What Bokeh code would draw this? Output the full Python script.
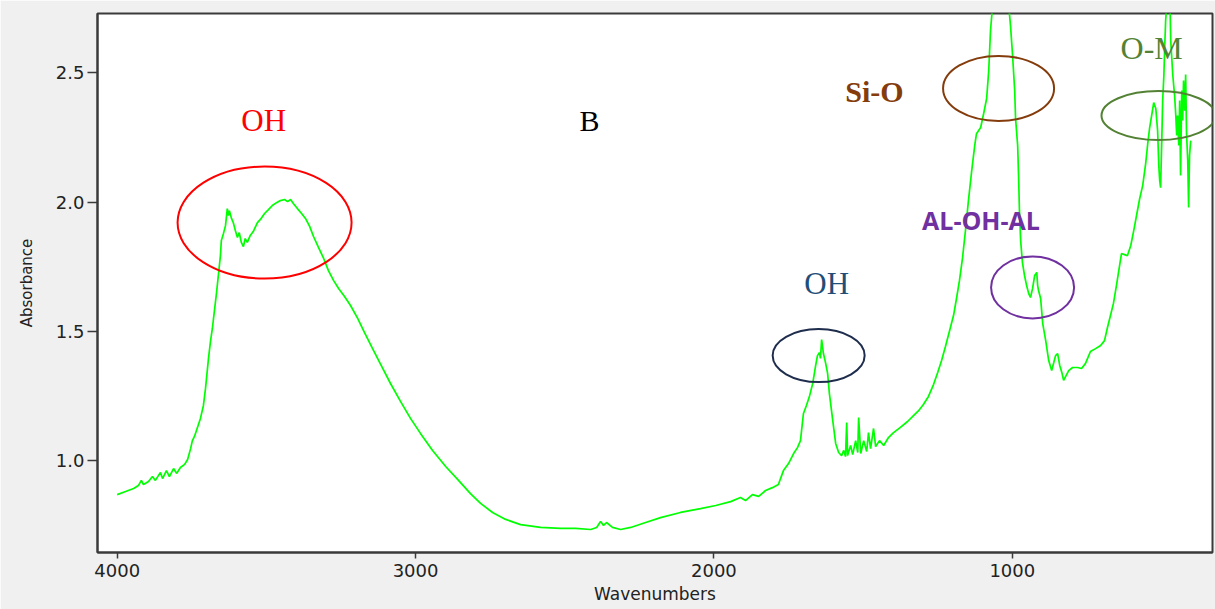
from bokeh.plotting import figure
from bokeh.models import Range1d, FixedTicker, PrintfTickFormatter
from bokeh.core.properties import value
from bokeh.embed import file_html
from bokeh.resources import INLINE

# ---- spectrum data (wavenumber cm-1, absorbance) ----
wavenumbers = [
    4000, 3972, 3945, 3929, 3919, 3912, 3895, 3882, 3872, 3855, 3848, 3835, 3825, 3811, 3801, 3788,
    3774, 3764, 3754, 3748, 3741, 3731, 3721, 3711, 3704, 3694, 3687, 3681, 3674, 3667, 3661, 3654,
    3651, 3644, 3637, 3631, 3627, 3624, 3617, 3611, 3604, 3597, 3591, 3584, 3577, 3571, 3564, 3554,
    3544, 3530, 3520, 3506, 3493, 3480, 3466, 3453, 3439, 3429, 3419, 3409, 3396, 3382, 3369, 3355,
    3342, 3325, 3308, 3292, 3275, 3258, 3238, 3218, 3194, 3171, 3144, 3117, 3084, 3050, 3017, 2983,
    2943, 2899, 2856, 2816, 2782, 2742, 2698, 2648, 2581, 2514, 2464, 2413, 2393, 2380, 2370, 2360,
    2340, 2313, 2279, 2229, 2179, 2112, 2045, 1994, 1944, 1911, 1894, 1871, 1850, 1827, 1804, 1784,
    1767, 1750, 1733, 1720, 1710, 1700, 1690, 1679, 1669, 1659, 1653, 1646, 1643, 1639, 1633, 1626,
    1619, 1613, 1603, 1592, 1582, 1572, 1565, 1559, 1555, 1552, 1542, 1535, 1525, 1518, 1515, 1508,
    1498, 1488, 1482, 1475, 1465, 1458, 1445, 1431, 1415, 1398, 1375, 1351, 1331, 1314, 1298, 1281,
    1264, 1250, 1237, 1224, 1210, 1197, 1187, 1177, 1167, 1157, 1147, 1136, 1126, 1120, 1106, 1096,
    1086, 1079, 1073, 1066, 1039, 1012, 1006, 999, 992, 989, 982, 979, 976, 972, 966, 959,
    952, 945, 939, 932, 925, 918, 915, 912, 905, 898, 888, 878, 868, 861, 855, 848,
    841, 834, 828, 821, 811, 798, 781, 768, 755, 738, 721, 704, 691, 681, 671, 661,
    651, 644, 634, 624, 614, 603, 593, 583, 573, 563, 553, 546, 540, 533, 526, 519,
    513, 509, 506, 503, 499, 496, 492, 489, 486, 479, 472, 469, 462, 456, 452, 449,
    446, 442, 439, 436, 432, 429, 426, 422, 419, 416, 412, 409, 406, 402,
]
absorbance = [
    0.868, 0.880, 0.892, 0.903, 0.923, 0.907, 0.919, 0.938, 0.923, 0.954, 0.930, 0.961, 0.938, 0.969, 0.950, 0.973,
    0.985, 1.004, 1.046, 1.077, 1.093, 1.128, 1.163, 1.213, 1.279, 1.395, 1.464, 1.511, 1.581, 1.650, 1.716, 1.793,
    1.851, 1.878, 1.909, 1.975, 1.948, 1.967, 1.937, 1.921, 1.890, 1.863, 1.882, 1.844, 1.828, 1.859, 1.844, 1.871,
    1.886, 1.921, 1.933, 1.956, 1.971, 1.987, 1.998, 2.006, 2.010, 2.002, 2.010, 1.994, 1.975, 1.956, 1.937, 1.906,
    1.867, 1.824, 1.782, 1.735, 1.697, 1.666, 1.635, 1.600, 1.550, 1.495, 1.433, 1.372, 1.298, 1.228, 1.163, 1.104,
    1.039, 0.977, 0.923, 0.872, 0.834, 0.799, 0.772, 0.752, 0.741, 0.737, 0.737, 0.733, 0.741, 0.764, 0.749, 0.760,
    0.741, 0.733, 0.741, 0.760, 0.779, 0.799, 0.814, 0.826, 0.841, 0.857, 0.845, 0.868, 0.861, 0.884, 0.895, 0.907,
    0.961, 0.988, 1.027, 1.050, 1.077, 1.182, 1.213, 1.252, 1.298, 1.368, 1.406, 1.418, 1.395, 1.468, 1.414, 1.379,
    1.337, 1.259, 1.166, 1.066, 1.031, 1.019, 1.039, 1.015, 1.147, 1.019, 1.058, 1.023, 1.077, 1.031, 1.166, 1.027,
    1.077, 1.035, 1.108, 1.046, 1.124, 1.054, 1.077, 1.058, 1.089, 1.108, 1.128, 1.151, 1.174, 1.193, 1.217, 1.248,
    1.294, 1.341, 1.387, 1.441, 1.503, 1.561, 1.627, 1.697, 1.782, 1.890, 2.006, 2.122, 2.219, 2.265, 2.289, 2.343,
    2.401, 2.509, 2.664, 2.761, 2.858, 2.761, 2.683, 2.567, 2.432, 2.323, 2.219, 2.103, 1.967, 1.851, 1.766, 1.716,
    1.677, 1.646, 1.631, 1.666, 1.716, 1.728, 1.677, 1.658, 1.627, 1.530, 1.464, 1.387, 1.348, 1.379, 1.406, 1.414,
    1.368, 1.341, 1.310, 1.326, 1.348, 1.360, 1.360, 1.356, 1.375, 1.422, 1.433, 1.445, 1.464, 1.515, 1.561, 1.608,
    1.677, 1.728, 1.801, 1.797, 1.793, 1.832, 1.890, 1.952, 2.014, 2.064, 2.149, 2.227, 2.285, 2.335, 2.385, 2.362,
    2.277, 2.142, 2.084, 2.056, 2.238, 2.393, 2.490, 2.606, 2.703, 2.819, 2.800, 2.625, 2.490, 2.412, 2.335, 2.258,
    2.335, 2.219, 2.393, 2.103, 2.432, 2.316, 2.471, 2.354, 2.494, 2.265, 2.161, 1.979, 2.180, 2.238,
]

x_ticks = [4000, 3000, 2000, 1000]
y_ticks = [1.0, 1.5, 2.0, 2.5]

p = figure(
    width=1215, height=609,
    x_range=Range1d(4066, 329), y_range=Range1d(0.644, 2.730),
    output_backend="svg", toolbar_location=None,
    min_border_left=97, min_border_top=13, min_border_bottom=57, min_border_right=3,
    background_fill_color="white", border_fill_color="#f0f0f0",
)
p.xgrid.visible = False
p.ygrid.visible = False
p.outline_line_color = "#3a3a3a"
p.outline_line_width = 2

p.xaxis.ticker = FixedTicker(ticks=x_ticks)
p.yaxis.ticker = FixedTicker(ticks=y_ticks)
p.xaxis.formatter = PrintfTickFormatter(format="%d")
p.yaxis.formatter = PrintfTickFormatter(format="%.1f")
for ax in (p.xaxis, p.yaxis):
    ax.axis_line_color = "#3a3a3a"
    ax.axis_line_width = 2
    ax.major_tick_line_color = "#3a3a3a"
    ax.major_tick_line_width = 1.5
    ax.major_tick_in = 0
    ax.minor_tick_in = 0
    ax.minor_tick_out = 0
    ax.major_label_text_font = "DejaVu Sans"
    ax.major_label_text_font_size = "18px"
    ax.major_label_text_color = "#222222"
    ax.axis_label_text_font = "DejaVu Sans"
    ax.axis_label_text_font_style = "normal"
    ax.axis_label_text_color = "#222222"
p.xaxis.major_tick_out = 6
p.yaxis.major_tick_out = 10
p.xaxis.major_label_standoff = 5
p.yaxis.major_label_standoff = 3
p.xaxis.axis_label = "Wavenumbers"
p.yaxis.axis_label = "Absorbance"
p.xaxis.axis_label_text_font_size = "17px"
p.yaxis.axis_label_text_font_size = "15px"
p.xaxis.axis_label_standoff = 4
p.yaxis.axis_label_standoff = 17

p.line(wavenumbers, absorbance, line_color="#00ff00", line_width=1.7)

# ---- annotations: ellipses ----
p.ellipse(x=[3506], y=[1.921], width=174, height=112, width_units="screen", height_units="screen",
          fill_color=None, line_color="#ff0000", line_width=2)
p.ellipse(x=[1046], y=[2.440], width=111, height=65, width_units="screen", height_units="screen",
          fill_color=None, line_color="#843c0c", line_width=2)
p.ellipse(x=[510], y=[2.335], width=114, height=49, width_units="screen", height_units="screen",
          fill_color=None, line_color="#548235", line_width=2)
p.ellipse(x=[932], y=[1.670], width=83, height=62, width_units="screen", height_units="screen",
          fill_color=None, line_color="#7030a0", line_width=2)
p.ellipse(x=[1649], y=[1.406], width=92, height=53, width_units="screen", height_units="screen",
          fill_color=None, line_color="#1f2d4d", line_width=2)

# ---- annotations: texts ----
def label(x, y, t, color, size, font, style="normal"):
    p.text(x=[x], y=[y], text=[t], text_color=color, text_font=value(font),
           text_font_size=value(size), text_font_style=style,
           text_align="center", text_baseline="middle")

label(3509, 2.316, "OH", "#ff0000", "31px", "Liberation Serif")
label(2417, 2.316, "B", "#000000", "30px", "Liberation Serif")
label(1462, 2.428, "Si-O", "#843c0c", "30px", "Liberation Serif", "bold")
label(1105, 1.929, "AL-OH-AL", "#7030a0", "25px", "Open Sans", "bold")
label(1622, 1.685, "OH", "#1f4e79", "31px", "Liberation Serif")
label(533, 2.598, "O-M", "#548235", "32px", "Liberation Serif")

open("out.html", "w").write(file_html(p, INLINE))
